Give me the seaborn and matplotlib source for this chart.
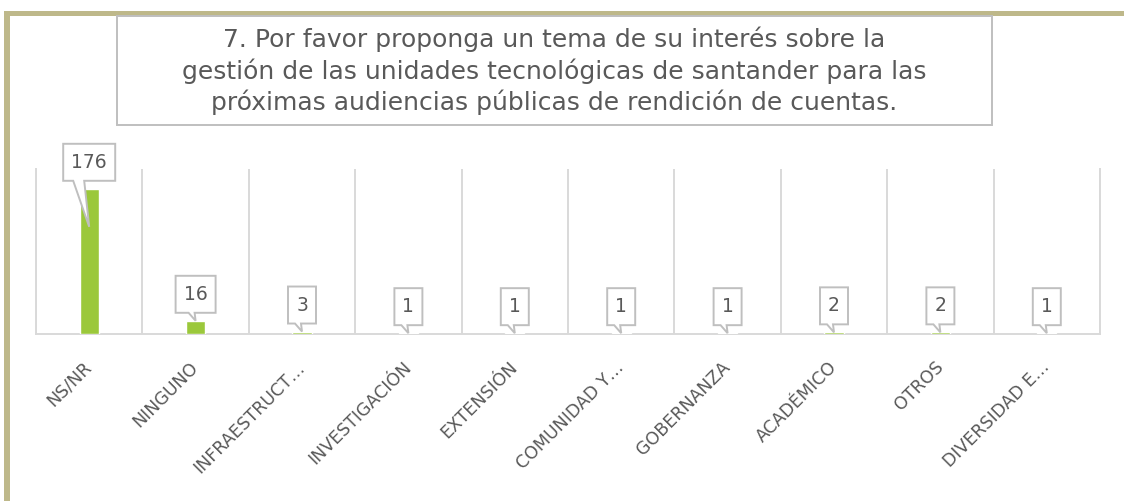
import matplotlib
matplotlib.use("Agg")

import matplotlib.pyplot as plt
import matplotlib.transforms as mtransforms
import numpy as np
import seaborn as sns
from matplotlib.patches import Polygon, Rectangle

# ── Data ──────────────────────────────────────────────────────────────────────
CATEGORIES = [
    "NS/NR", "NINGUNO", "INFRAESTRUCT…", "INVESTIGACIÓN", "EXTENSIÓN",
    "COMUNIDAD Y…", "GOBERNANZA", "ACADÉMICO", "OTROS", "DIVERSIDAD E…",
]
VALUES = [176, 16, 3, 1, 1, 1, 1, 2, 2, 1]
TITLE_LINES = [
    "7. Por favor proponga un tema de su interés sobre la",
    "gestión de las unidades tecnológicas de santander para las",
    "próximas audiencias públicas de rendición de cuentas.",
]

# ── Style ─────────────────────────────────────────────────────────────────────
GREEN = "#9BC83B"
GRID = "#D9D9D9"
TEXT = "#595959"
BOX_EDGE = "#BFBFBF"
FRAME = "#BEB88A"
W, H = 1124, 501

sns.set_theme(style="white")
plt.rcParams["font.family"] = ["DejaVu Sans"]

fig = plt.figure(figsize=(W / 100, H / 100), dpi=100)
fig.patch.set_facecolor("white")

# outer frame (only top and left edges visible in the crop)
fig.patches.append(Rectangle((4 / W, 1 - 16 / H), 1, 5 / H, transform=fig.transFigure,
                             facecolor=FRAME, edgecolor="none"))
fig.patches.append(Rectangle((4 / W, 0), 6 / W, 1 - 11 / H, transform=fig.transFigure,
                             facecolor=FRAME, edgecolor="none"))

ax = fig.add_axes([36 / W, 1 - 334 / H, (1100 - 36) / W, (334 - 169) / H])
sns.barplot(x=CATEGORIES, y=VALUES, color=GREEN, saturation=1, width=0.18, ax=ax, zorder=3)

ax.set_xlim(-0.5, len(CATEGORIES) - 0.5)
ax.set_ylim(0, 200)
ax.set_yticks([])
ax.set_xlabel("")
ax.set_ylabel("")
ax.set_xticks(np.arange(len(CATEGORIES) + 1) - 0.5, minor=True)
ax.grid(which="minor", axis="x", color=GRID, lw=1.4)
ax.tick_params(which="both", length=0)
ax.tick_params(axis="x", which="major", pad=22)
ax.set_xticks(range(len(CATEGORIES)))
ax.set_xticklabels(CATEGORIES, rotation=45, ha="right", va="center",
                   rotation_mode="anchor", fontsize=12.5, color=TEXT)
ax.spines["top"].set_visible(False)
for side in ["left", "right", "bottom"]:
    ax.spines[side].set_color(GRID)
    ax.spines[side].set_linewidth(1.4)

# callout data labels
for i, v in enumerate(VALUES):
    half = (16 + 12 * len(str(v))) / 2
    bottom, top = 8, 45
    if i == 0:
        base_l, base_r, tip = -16, -5, -38
    else:
        base_l, base_r, tip = -7, -1, 0
    verts = [(-half, bottom), (-half, top), (half, top), (half, bottom),
             (base_r, bottom), (0, tip), (base_l, bottom)]
    trans = mtransforms.ScaledTranslation(i, v, ax.transData)
    ax.add_patch(Polygon(verts, closed=True, transform=trans, facecolor="white",
                         edgecolor=BOX_EDGE, lw=1.4, zorder=5, clip_on=False))
    ax.annotate(str(v), xy=(i, v), xytext=(0, (bottom + top) / 2 * 0.72),
                textcoords="offset points", ha="center", va="center",
                fontsize=13.5, color=TEXT, zorder=6, annotation_clip=False)

# title box
fig.patches.append(Rectangle((117 / W, 1 - 125 / H), (992 - 117) / W, (125 - 16) / H,
                             transform=fig.transFigure, facecolor="white",
                             edgecolor=BOX_EDGE, lw=1.4))
fig.text(554 / W, 1 - 71 / H, "\n".join(TITLE_LINES), ha="center", va="center",
         multialignment="center", fontsize=18, color=TEXT, linespacing=1.3)

fig.savefig("out.png", dpi=100)
